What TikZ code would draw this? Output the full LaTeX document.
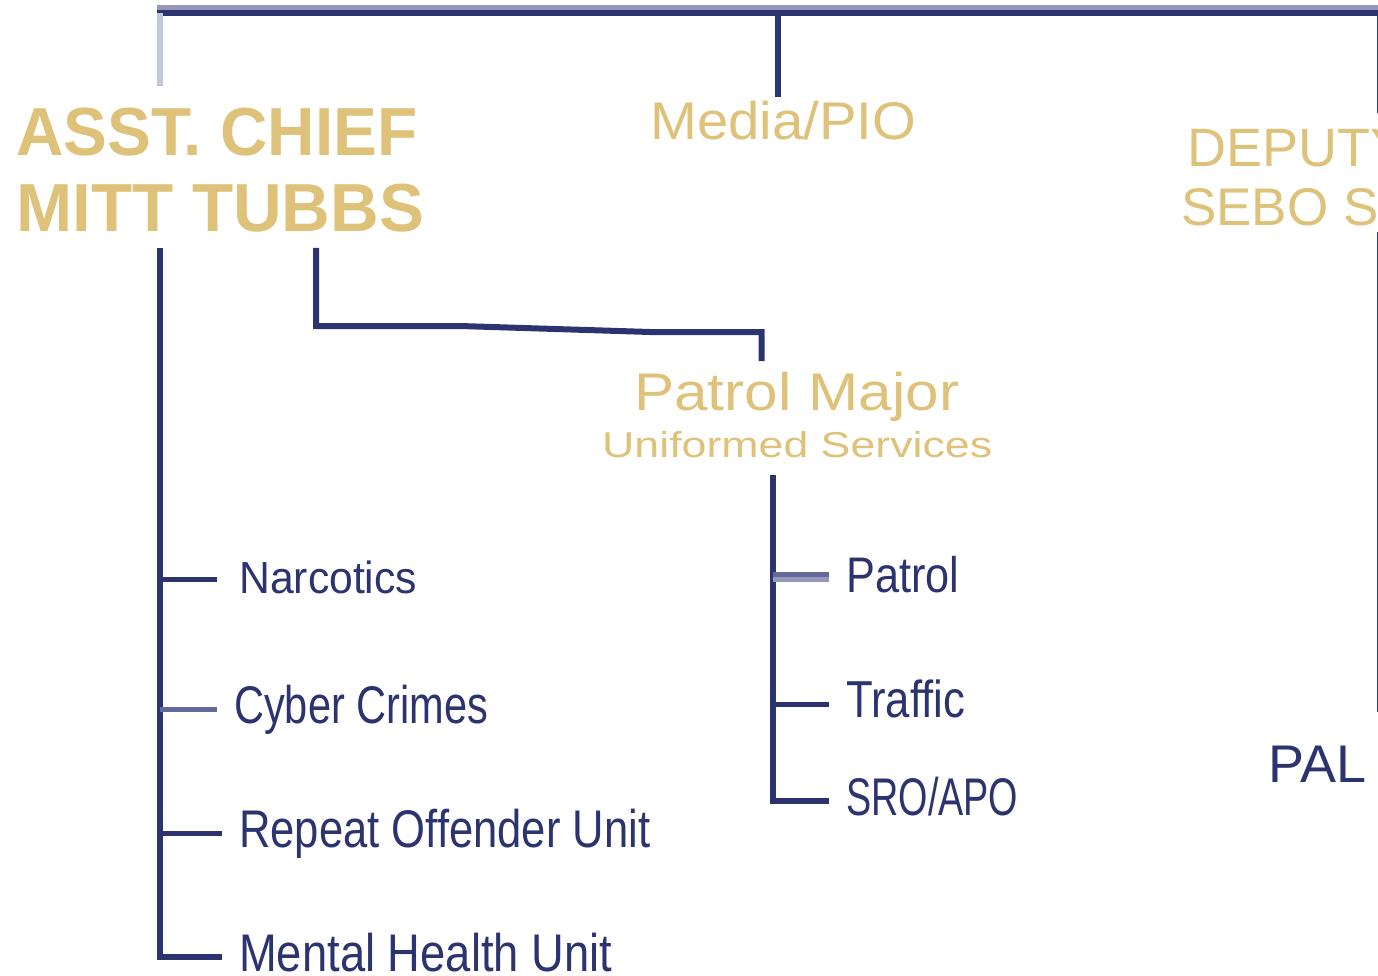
\documentclass[tikz,border=0pt]{standalone}
\usepackage{fontspec}
\setmainfont{Liberation Sans}
\definecolor{navy}{RGB}{44,52,112}
\definecolor{navymid}{RGB}{99,106,154}
\definecolor{navysoft}{RGB}{149,152,184}
\definecolor{navypale}{RGB}{196,198,218}
\definecolor{gold}{RGB}{222,194,122}
% stretch or squeeze a label horizontally to a given width, keeping its height
\newcommand{\fitw}[2]{\resizebox{#1}{\height}{#2}}
\newcommand{\fsz}[1]{\fontsize{#1}{#1}\selectfont}

\begin{document}
\begin{tikzpicture}[x=1pt,y=-1pt,
  lbl/.style={inner sep=0pt, anchor=base west},
  head/.style={lbl, text=gold},
  unit/.style={lbl, text=navy},
  wire/.style={draw=navy, line width=6pt, line join=miter},
  twig/.style={draw=navy, line width=5pt},
]
\useasboundingbox (0,0) rectangle (1378,976);
\clip (0,0) rectangle (1378,976);

% ---------- titles ----------
\node[head, font=\fsz{68}\bfseries] (asst)  at (16,156)  {\fitw{401pt}{ASST. CHIEF}};
\node[head, font=\fsz{68}\bfseries] (tubbs) at (16,232)  {\fitw{408pt}{MITT TUBBS}};
\node[head, font=\fsz{53}] (media) at (650,140) {\fitw{266pt}{Media/PIO}};
\node[head, font=\fsz{54}] (deputy) at (1187,167) {DEPUTY};
\node[head, font=\fsz{53}] (sebo)  at (1181,226) {SEBO SA};
\node[head, font=\fsz{53}] (major) at (634,410) {\fitw{325pt}{Patrol Major}};
\node[head, font=\fsz{36}] (uniform) at (602,457) {\fitw{390pt}{Uniformed Services}};

% ---------- units ----------
\node[unit, font=\fsz{45}] (narc)   at (239,593) {\fitw{178pt}{Narcotics}};
\node[unit, font=\fsz{53}] (cyber)  at (234,723) {\fitw{254pt}{Cyber Crimes}};
\node[unit, font=\fsz{53}] (repeat) at (239,847) {\fitw{411pt}{Repeat Offender Unit}};
\node[unit, font=\fsz{53}] (mental) at (239,971) {\fitw{373pt}{Mental Health Unit}};
\node[unit, font=\fsz{50}] (patrol) at (846,592) {\fitw{113pt}{Patrol}};
\node[unit, font=\fsz{52}] (traffic) at (846,717) {\fitw{119pt}{Traffic}};
\node[unit, font=\fsz{53}] (sro)    at (846,815) {\fitw{172pt}{SRO/APO}};
\node[unit, font=\fsz{53}] (pal)    at (1268,782) {\fitw{98pt}{PAL}};

% ---------- junction points ----------
\coordinate (barL) at (157,13);
\coordinate (barR) at (1385,13);
\coordinate (barA) at (160,13);
\coordinate (barM) at (777.5,13);
\coordinate (barD) at (1380,13);
\coordinate (asstTop) at (160,86);
\coordinate (mediaTop) at (777.5,97);
\coordinate (depTop) at (1380,113);
\coordinate (depBot) at (1380,232);
\coordinate (palTop) at (1380,712);

\coordinate (spineTop) at (160,248);
\coordinate (spineBot) at (160,957);
\coordinate (narcEnd) at (217,579.5);
\coordinate (cyberEnd) at (217,709.5);
\coordinate (repEnd) at (222,833.5);
\coordinate (mentEnd) at (222,957);

\coordinate (majA) at (316,248);
\coordinate (majB) at (316,326);
\coordinate (majC) at (460,326);
\coordinate (majD) at (650,332);
\coordinate (majE) at (761.5,332);
\coordinate (majF) at (761.5,361);

\coordinate (patTop) at (772.5,475);
\coordinate (patBot) at (772.5,800.5);
\coordinate (patEnd) at (829,574.5);
\coordinate (trafEnd) at (829,704);
\coordinate (sroEnd) at (829,800.5);

% ---------- connectors ----------
\draw[draw=navysoft, line width=5pt] ([yshift=5.5pt]barL) -- ([yshift=5.5pt]barR);
\draw[wire] (barL) -- (barR);
\draw[draw=navypale, line width=6pt] (barA) -- (asstTop);
\draw[wire] (barM) -- (mediaTop);
\draw[wire] (barD) -- (depTop);
\draw[wire] (depBot) -- (palTop);

\draw[wire] (spineTop) -- (spineBot) -- (mentEnd);
\draw[twig] (spineTop |- narcEnd) -- (narcEnd);
\draw[twig, draw=navymid] (spineTop |- cyberEnd) -- (cyberEnd);
\draw[twig] (spineTop |- repEnd) -- (repEnd);

\draw[wire] (majA) -- (majB) -- (majC) -- (majD) -- (majE) -- (majF);

\draw[wire] (patTop) -- (patBot) -- (sroEnd);
\draw[twig, draw=navymid] (patTop |- patEnd) -- (patEnd);
\draw[twig, draw=navysoft] ([yshift=-5pt]patTop |- patEnd) -- ([yshift=-5pt]patEnd);
\draw[twig] (patTop |- trafEnd) -- (trafEnd);
\end{tikzpicture}
\end{document}
